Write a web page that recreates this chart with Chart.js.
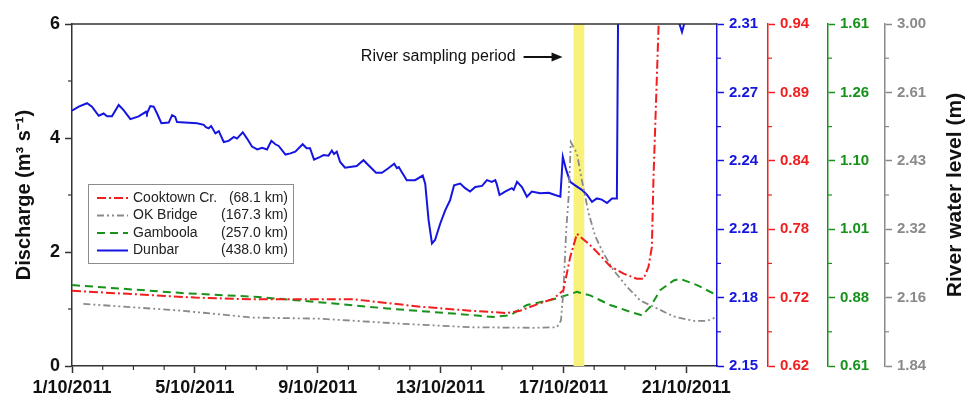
<!DOCTYPE html>
<html>
<head>
<meta charset="utf-8">
<script src="https://cdn.jsdelivr.net/npm/chart.js@4/dist/chart.umd.min.js"></script>
<style>
  html, body { margin: 0; padding: 0; background: #fff; }
  #wrap { width: 966px; height: 396px; }
</style>
</head>
<body>
<div id="wrap"><canvas id="c" width="966" height="396"></canvas></div>
<script>
// x values are days since 1 October 2011; y values are on the discharge scale (0-6),
// and each coloured right-hand axis relabels that same scale as water level (m).
const xTickDays = [0, 4, 8, 12, 16, 20];
const xTickLabels = ['1/10/2011', '5/10/2011', '9/10/2011', '13/10/2011', '17/10/2011', '21/10/2011'];
const dischargeTicks = [0, 2, 4, 6];
const levelTickPositions = [0, 1.2, 2.4, 3.6, 4.8, 6];
const dunbarTickLabels = ['2.15', '2.18', '2.21', '2.24', '2.27', '2.31'];
const cooktownTickLabels = ['0.62', '0.72', '0.78', '0.84', '0.89', '0.94'];
const gamboolaTickLabels = ['0.61', '0.88', '1.01', '1.10', '1.26', '1.61'];
const okBridgeTickLabels = ['1.84', '2.16', '2.32', '2.43', '2.61', '3.00'];

const stationNames = ['Cooktown Cr.', 'OK Bridge', 'Gamboola', 'Dunbar'];
const stationDistances = ['(68.1 km)', '(167.3 km)', '(257.0 km)', '(438.0 km)'];

const samplingPeriod = [16.33, 16.68];

const cooktownDays = [0, 2.02, 4.01, 5.80, 7.59, 9.16, 11.34, 12.96, 14.16, 14.59, 15.24, 15.68, 16.00, 16.22, 16.44, 16.87, 17.20, 17.52, 17.96, 18.39, 18.61, 18.77, 18.88, 18.93, 19.10, 19.14];
const cooktownTrace = [1.32, 1.26, 1.20, 1.17, 1.17, 1.17, 1.04, 0.97, 0.93, 0.97, 1.10, 1.18, 1.33, 1.91, 2.32, 2.12, 1.94, 1.75, 1.62, 1.53, 1.53, 1.74, 2.09, 3.26, 6.0, 6.6];

const okBridgeDays = [0.37, 3.58, 5.86, 8.08, 10.78, 12.96, 15.03, 15.79, 15.92, 16.00, 16.09, 16.17, 16.24, 16.44, 16.60, 16.82, 17.04, 17.31, 17.63, 18.07, 18.50, 18.93, 19.59, 20.24, 20.67, 20.94];
const okBridgeTrace = [1.09, 0.97, 0.85, 0.83, 0.74, 0.68, 0.67, 0.68, 0.80, 1.33, 2.38, 2.97, 3.93, 3.73, 3.26, 2.68, 2.27, 1.97, 1.68, 1.39, 1.15, 1.04, 0.87, 0.79, 0.79, 0.85];

const gamboolaDays = [0, 3.58, 6.08, 8.25, 10.25, 12.42, 13.72, 14.27, 14.81, 15.68, 16.44, 16.87, 17.52, 18.18, 18.56, 18.83, 19.15, 19.59, 19.80, 20.35, 20.89];
const gamboolaTrace = [1.42, 1.28, 1.21, 1.11, 1.01, 0.92, 0.86, 0.89, 1.07, 1.17, 1.30, 1.24, 1.07, 0.95, 0.89, 1.04, 1.33, 1.50, 1.53, 1.42, 1.27];

const dunbarDays = [0.00, 0.22, 0.49, 0.65, 0.87, 1.03, 1.14, 1.30, 1.52, 1.68,
  1.90, 2.17, 2.41, 2.44, 2.55, 2.66, 2.77, 2.91, 3.15, 3.26,
  3.36, 3.42, 4.07, 4.29, 4.36, 4.45, 4.53, 4.67, 4.78, 4.94,
  5.10, 5.27, 5.37, 5.56, 5.70, 5.86, 6.03, 6.19, 6.35, 6.49,
  6.62, 6.73, 6.95, 7.11, 7.27, 7.51, 7.64, 7.75, 7.88, 8.08,
  8.19, 8.35, 8.46, 8.53, 8.62, 8.73, 8.89, 9.27, 9.49, 9.71,
  9.90, 10.09, 10.30, 10.49, 10.58, 10.64, 10.74, 10.90, 11.17, 11.42,
  11.50, 11.61, 11.72, 11.82, 11.99, 12.15, 12.31, 12.44, 12.64, 12.80,
  12.96, 13.13, 13.35, 13.51, 13.67, 13.78, 13.83, 13.92, 14.10, 14.32,
  14.38, 14.49, 14.65, 14.81, 14.97, 15.24, 15.52, 15.73, 15.90, 15.98,
  16.09, 16.22, 16.38, 16.60, 16.77, 16.93, 17.09, 17.25, 17.42, 17.58,
  17.74, 17.79, 19.72, 19.86, 19.98, 21.0];
const dunbarTrace = [4.48, 4.55, 4.61, 4.55, 4.39, 4.43, 4.38, 4.38, 4.58, 4.49,
  4.33, 4.38, 4.46, 4.43, 4.56, 4.55, 4.43, 4.26, 4.27, 4.40,
  4.37, 4.28, 4.26, 4.23, 4.19, 4.17, 4.21, 4.08, 4.12, 3.93,
  3.95, 4.02, 3.99, 4.10, 3.99, 3.85, 3.80, 3.83, 3.80, 3.95,
  3.89, 3.86, 3.71, 3.73, 3.76, 3.89, 3.82, 3.82, 3.62, 3.67,
  3.70, 3.69, 3.78, 3.72, 3.76, 3.58, 3.48, 3.51, 3.61, 3.49,
  3.39, 3.39, 3.47, 3.55, 3.47, 3.49, 3.40, 3.26, 3.26, 3.34,
  3.20, 2.56, 2.15, 2.21, 2.50, 2.73, 2.91, 3.17, 3.20, 3.12,
  3.06, 3.14, 3.16, 3.26, 3.23, 3.26, 3.19, 3.00, 3.06, 3.12,
  3.09, 3.23, 3.14, 2.97, 3.06, 3.03, 3.04, 3.00, 2.97, 3.67,
  3.44, 3.23, 3.17, 3.09, 3.00, 2.88, 2.94, 2.92, 2.86, 2.94,
  2.94, 7.0, 6.1, 5.86, 6.1, 6.6];

const FONT = "'Liberation Sans', Arial, sans-serif";
const AXIS_DARK = '#333333';
const BLUE = '#1515e0';
const RED = '#f01e1e';
const GREEN = '#17921a';
const GREY = '#8a8a8a';

const pairs = (xs, ys) => xs.map((x, i) => ({ x, y: ys[i] }));

function levelAxis(color, labels, width) {
  return {
    type: 'linear', position: 'right', min: 0, max: 6,
    afterBuildTicks: s => { s.ticks = levelTickPositions.map(v => ({ value: v })); },
    afterFit: s => { s.width = width; },
    ticks: {
      color, padding: 5, font: { family: FONT, size: 15, weight: 'bold' },
      callback: (v, i) => labels[i]
    },
    grid: { drawOnChartArea: false, tickLength: 7, tickColor: color, tickWidth: 1.5 },
    border: { color, width: 1.5 }
  };
}

// Shaded sampling window, drawn underneath the traces
const bandPlugin = {
  id: 'samplingBand',
  beforeDatasetsDraw(chart) {
    const { ctx, chartArea, scales } = chart;
    const x0 = scales.x.getPixelForValue(samplingPeriod[0]);
    const x1 = scales.x.getPixelForValue(samplingPeriod[1]);
    ctx.save();
    ctx.fillStyle = '#f8f27a';
    ctx.fillRect(x0, chartArea.top, x1 - x0, chartArea.bottom - chartArea.top);
    ctx.restore();
  }
};

// Minor ticks, top frame line, annotation, legend box and right-hand title
const decorPlugin = {
  id: 'decor',
  afterDraw(chart) {
    const { ctx, chartArea, scales } = chart;
    ctx.save();
    // top frame
    ctx.strokeStyle = AXIS_DARK;
    ctx.lineWidth = 1.5;
    ctx.beginPath();
    ctx.moveTo(chartArea.left, chartArea.top);
    ctx.lineTo(chartArea.right, chartArea.top);
    ctx.stroke();

    // minor ticks on the date axis
    ctx.lineWidth = 1.2;
    for (let d = 1; d < 21; d++) {
      if (d % 4 === 0) continue;
      const px = scales.x.getPixelForValue(d);
      ctx.beginPath();
      ctx.moveTo(px, chartArea.bottom);
      ctx.lineTo(px, chartArea.bottom + 4);
      ctx.stroke();
    }
    // minor ticks on the discharge axis
    [1, 3, 5].forEach(v => {
      const py = scales.y.getPixelForValue(v);
      ctx.beginPath();
      ctx.moveTo(chartArea.left, py);
      ctx.lineTo(chartArea.left - 4, py);
      ctx.stroke();
    });
    // minor ticks on the level axes
    [['yDunbar', BLUE], ['yCooktown', RED], ['yGamboola', GREEN], ['yOkBridge', GREY]].forEach(([id, col]) => {
      const s = scales[id];
      ctx.strokeStyle = col;
      [0.6, 1.8, 3.0, 4.2, 5.4].forEach(v => {
        const py = s.getPixelForValue(v);
        ctx.beginPath();
        ctx.moveTo(s.left, py);
        ctx.lineTo(s.left + 4, py);
        ctx.stroke();
      });
    });

    // sampling period annotation with arrow
    const bandLeft = scales.x.getPixelForValue(samplingPeriod[0]);
    const ay = chartArea.top + 33;
    ctx.fillStyle = '#111';
    ctx.strokeStyle = '#111';
    ctx.font = `16px ${FONT}`;
    ctx.textAlign = 'right';
    ctx.textBaseline = 'middle';
    ctx.fillText('River sampling period', bandLeft - 58, ay);
    ctx.lineWidth = 2;
    ctx.beginPath();
    ctx.moveTo(bandLeft - 50, ay);
    ctx.lineTo(bandLeft - 20, ay);
    ctx.stroke();
    ctx.beginPath();
    ctx.moveTo(bandLeft - 11, ay);
    ctx.lineTo(bandLeft - 22, ay - 4.5);
    ctx.lineTo(bandLeft - 22, ay + 4.5);
    ctx.closePath();
    ctx.fill();

    // legend
    const bx = chartArea.left + 16, by = chartArea.top + 160, bw = 205, bh = 79;
    ctx.fillStyle = '#fff';
    ctx.fillRect(bx, by, bw, bh);
    ctx.strokeStyle = '#8c8c8c';
    ctx.lineWidth = 1;
    ctx.strokeRect(bx + 0.5, by + 0.5, bw, bh);
    chart.data.datasets.forEach((ds, i) => {
      const ry = by + 14 + i * 17.5;
      ctx.strokeStyle = ds.borderColor;
      ctx.lineWidth = ds.borderWidth;
      ctx.setLineDash(ds.borderDash || []);
      ctx.beginPath();
      ctx.moveTo(bx + 9, ry);
      ctx.lineTo(bx + 40, ry);
      ctx.stroke();
      ctx.setLineDash([]);
      ctx.fillStyle = '#222';
      ctx.font = `14px ${FONT}`;
      ctx.textBaseline = 'middle';
      ctx.textAlign = 'left';
      ctx.fillText(stationNames[i], bx + 45, ry);
      ctx.textAlign = 'right';
      ctx.fillText(stationDistances[i], bx + bw - 5, ry);
    });

    // right-hand title, reading bottom to top
    ctx.fillStyle = '#111';
    ctx.font = `bold 21px ${FONT}`;
    ctx.textAlign = 'center';
    ctx.textBaseline = 'middle';
    ctx.translate(955, (chartArea.top + chartArea.bottom) / 2);
    ctx.rotate(-Math.PI / 2);
    ctx.fillText('River water level (m)', 0, 0);
    ctx.restore();
  }
};

const common = { pointRadius: 0, pointHoverRadius: 0, fill: false, tension: 0, clip: 0 };

new Chart(document.getElementById('c'), {
  type: 'line',
  data: {
    datasets: [
      { ...common, label: stationNames[0], data: pairs(cooktownDays, cooktownTrace), yAxisID: 'yCooktown',
        borderColor: RED, borderWidth: 2, borderDash: [9, 3, 2, 3] },
      { ...common, label: stationNames[1], data: pairs(okBridgeDays, okBridgeTrace), yAxisID: 'yOkBridge',
        borderColor: GREY, borderWidth: 1.8, borderDash: [7, 3, 2, 3, 2, 3] },
      { ...common, label: stationNames[2], data: pairs(gamboolaDays, gamboolaTrace), yAxisID: 'yGamboola',
        borderColor: GREEN, borderWidth: 2, borderDash: [8, 5] },
      { ...common, label: stationNames[3], data: pairs(dunbarDays, dunbarTrace), yAxisID: 'yDunbar',
        borderColor: BLUE, borderWidth: 2 }
    ]
  },
  options: {
    responsive: false,
    animation: false,
    devicePixelRatio: 1,
    layout: { padding: { top: 24, left: 0, right: 0, bottom: 0 } },
    plugins: { legend: { display: false }, tooltip: { enabled: false } },
    scales: {
      x: {
        type: 'linear', position: 'bottom', min: 0, max: 21,
        afterBuildTicks: s => { s.ticks = xTickDays.map(v => ({ value: v })); },
        afterFit: s => { s.height = 30; },
        ticks: {
          color: '#111', padding: 4, maxRotation: 0, autoSkip: false,
          font: { family: FONT, size: 18, weight: 'bold' },
          callback: v => xTickLabels[xTickDays.indexOf(v)]
        },
        grid: { drawOnChartArea: false, tickLength: 7, tickColor: AXIS_DARK, tickWidth: 1.5 },
        border: { color: AXIS_DARK, width: 1.5 }
      },
      y: {
        type: 'linear', position: 'left', min: 0, max: 6,
        afterBuildTicks: s => { s.ticks = dischargeTicks.map(v => ({ value: v })); },
        afterFit: s => { s.width = 72; },
        ticks: { color: '#111', padding: 5, font: { family: FONT, size: 18, weight: 'bold' } },
        grid: { drawOnChartArea: false, tickLength: 7, tickColor: AXIS_DARK, tickWidth: 1.5 },
        border: { color: AXIS_DARK, width: 1.5 },
        title: {
          display: true, text: 'Discharge (m³ s⁻¹)', color: '#111',
          font: { family: FONT, size: 20, weight: 'bold' }, padding: { top: 12, bottom: 0 }
        }
      },
      yDunbar: levelAxis(BLUE, dunbarTickLabels, 51),
      yCooktown: levelAxis(RED, cooktownTickLabels, 60),
      yGamboola: levelAxis(GREEN, gamboolaTickLabels, 57),
      yOkBridge: levelAxis(GREY, okBridgeTickLabels, 81)
    }
  },
  plugins: [bandPlugin, decorPlugin]
});
</script>
</body>
</html>
